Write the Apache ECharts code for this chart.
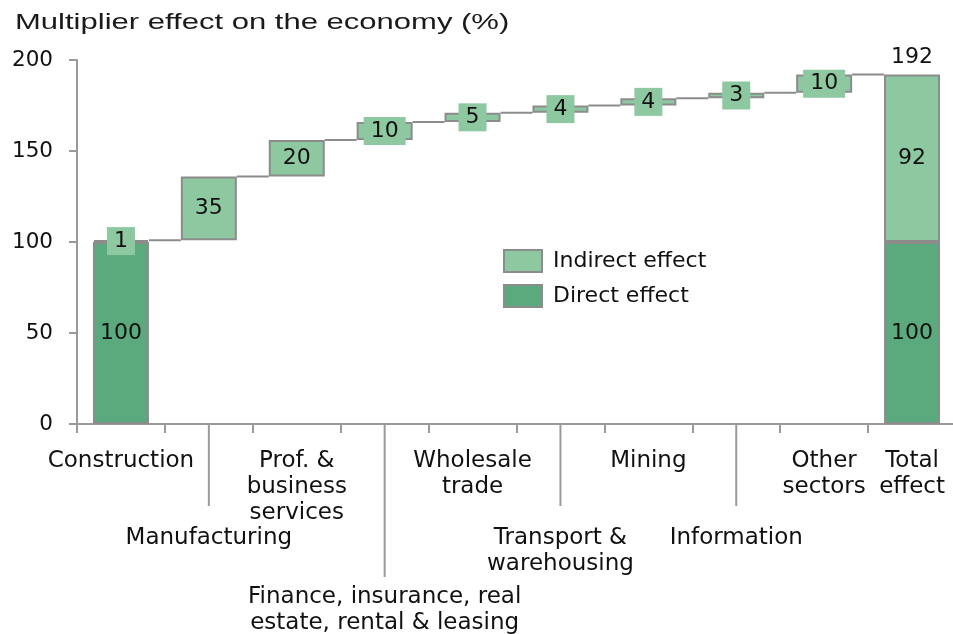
<!DOCTYPE html>
<html>
<head>
<meta charset="utf-8">
<title>Multiplier effect on the economy</title>
<script src="https://cdn.jsdelivr.net/npm/echarts@6/dist/echarts.min.js"></script>
<style>
  html, body { margin: 0; padding: 0; background: #fff; }
  #chart { width: 953px; height: 634px; }
</style>
</head>
<body>
<div id="chart"></div>
<script>
// Data
const categories = [
  'Construction',
  'Manufacturing',
  'Prof. &\nbusiness\nservices',
  'Finance, insurance, real\nestate, rental & leasing',
  'Wholesale\ntrade',
  'Transport &\nwarehousing',
  'Mining',
  'Information',
  'Other\nsectors',
  'Total\neffect'
];
// 0 = first label row, 1 = second row, 2 = third row (staggered labels)
const labelRow = [0, 1, 0, 2, 0, 1, 0, 1, 0, 0];
const baseValues = [0, 101, 136, 156, 166, 171, 175, 179, 182, 0];
const directValues = [100, '-', '-', '-', '-', '-', '-', '-', '-', 100];
const indirectValues = [1, 35, 20, 10, 5, 4, 4, 3, 10, 92];
const totalValues = ['-', '-', '-', '-', '-', '-', '-', '-', '-', 192];

const FONT = '"DejaVu Sans", sans-serif';
const TEXT = '#111';
const GREY = '#8c8c8c';
const LIGHT = '#8dc8a0';
const DARK = '#5aaa7d';
const BAR_W = 56;

// connector lines sit at the top of each bar
const connectorData = [];
for (let i = 0; i < categories.length - 1; i++) {
  const d = directValues[i] === '-' ? 0 : directValues[i];
  connectorData.push([i, baseValues[i] + d + indirectValues[i]]);
}
const leaderData = [];
labelRow.forEach((r, i) => { if (r > 0) leaderData.push([i, 0, r]); });

const chart = echarts.init(document.getElementById('chart'));

const option = {
  animation: false,
  textStyle: { fontFamily: FONT },
  graphic: [{
    type: 'text',
    x: 15,
    y: 12,
    scaleX: 1.41,
    style: {
      text: 'Multiplier effect on the economy (%)',
      font: '22px "Liberation Sans", Arial, sans-serif',
      fill: '#1a1a1a',
      textVerticalAlign: 'top',
      lineHeight: 22
    }
  }],
  legend: {
    data: ['Indirect effect', 'Direct effect'],
    orient: 'vertical',
    left: 503,
    top: 249,
    padding: 0,
    itemWidth: 38,
    itemHeight: 22,
    itemGap: 11,
    icon: 'rect',
    selectedMode: false,
    textStyle: { fontFamily: FONT, fontSize: 22, color: TEXT, padding: [0, 0, 0, 6] }
  },
  grid: {
    left: 77,
    top: 60,
    width: 879,
    height: 364,
    outerBoundsMode: 'none',
    containLabel: false
  },
  xAxis: {
    type: 'category',
    data: categories,
    axisLine: { lineStyle: { color: '#9a9a9a', width: 2 } },
    axisTick: { show: true, length: 9, interval: 0, lineStyle: { color: '#9a9a9a', width: 2 } },
    splitLine: { show: false },
    axisLabel: {
      interval: 0,
      margin: 24,
      color: TEXT,
      fontFamily: FONT,
      fontSize: 23,
      lineHeight: 26,
      formatter: (v, i) => {
        if (labelRow[i] === 1) return '{sp1| }\n' + v;
        if (labelRow[i] === 2) return '{sp2| }\n' + v;
        return v;
      },
      rich: {
        sp1: { lineHeight: 77, fontSize: 23 },
        sp2: { lineHeight: 136, fontSize: 23 }
      }
    }
  },
  yAxis: {
    type: 'value',
    min: 0,
    max: 200,
    interval: 50,
    axisLine: { show: true, lineStyle: { color: '#9a9a9a', width: 2 } },
    axisTick: { show: true, length: 8, lineStyle: { color: '#9a9a9a', width: 2 } },
    splitLine: { show: false },
    axisLabel: { color: TEXT, fontFamily: FONT, fontSize: 21.5, margin: 24 }
  },
  series: [
    {
      name: 'base',
      type: 'bar',
      stack: 'w',
      barWidth: BAR_W,
      silent: true,
      itemStyle: { color: 'transparent', borderWidth: 0 },
      data: baseValues
    },
    {
      name: 'Direct effect',
      type: 'bar',
      stack: 'w',
      barWidth: BAR_W,
      itemStyle: { color: DARK, borderColor: GREY, borderWidth: 2 },
      label: {
        show: true,
        position: 'inside',
        color: TEXT,
        fontFamily: FONT,
        fontSize: 22
      },
      data: directValues
    },
    {
      name: 'Indirect effect',
      type: 'bar',
      stack: 'w',
      barWidth: BAR_W,
      itemStyle: { color: LIGHT, borderColor: GREY, borderWidth: 2 },
      label: {
        show: true,
        position: 'inside',
        color: TEXT,
        fontFamily: FONT,
        fontSize: 22,
        lineHeight: 22,
        backgroundColor: LIGHT,
        padding: [3, 7]
      },
      data: indirectValues
    },
    {
      name: 'total',
      type: 'scatter',
      symbolSize: 1,
      silent: true,
      itemStyle: { color: 'transparent' },
      label: {
        show: true,
        position: 'top',
        distance: 6,
        color: TEXT,
        opacity: 1,
        fontFamily: FONT,
        fontSize: 22,
        formatter: p => p.value
      },
      data: totalValues
    },
    {
      name: 'connectors',
      type: 'custom',
      silent: true,
      clip: false,
      encode: { x: 0, y: 1 },
      renderItem: (params, api) => {
        const a = api.coord([api.value(0), api.value(1)]);
        const b = api.coord([api.value(0) + 1, api.value(1)]);
        return {
          type: 'line',
          shape: { x1: a[0] + BAR_W / 2, y1: a[1], x2: b[0] - BAR_W / 2, y2: a[1] },
          style: { stroke: GREY, lineWidth: 2 }
        };
      },
      data: connectorData
    },
    {
      name: 'leaders',
      type: 'custom',
      silent: true,
      clip: false,
      encode: { x: 0, y: 1 },
      renderItem: (params, api) => {
        const a = api.coord([api.value(0), 0]);
        const len = api.value(2) === 2 ? 153 : 82;
        return {
          type: 'line',
          shape: { x1: a[0], y1: a[1], x2: a[0], y2: a[1] + len },
          style: { stroke: '#9a9a9a', lineWidth: 2 }
        };
      },
      data: leaderData
    }
  ]
};

chart.setOption(option);
</script>
</body>
</html>
